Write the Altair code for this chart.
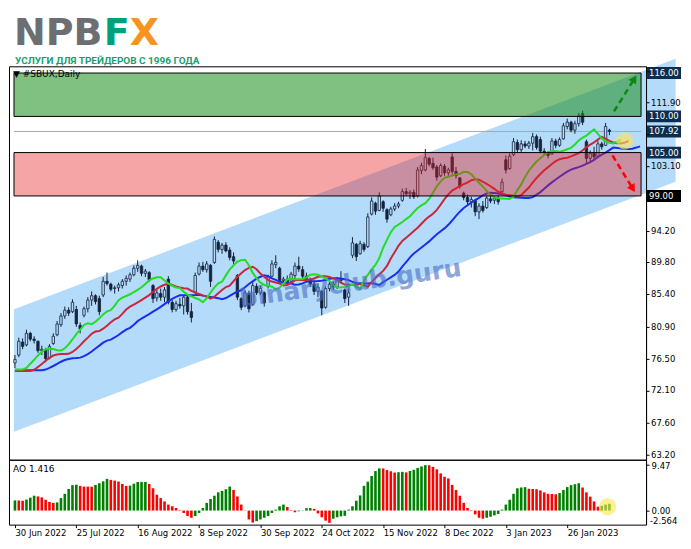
import altair as alt
import pandas as pd

FONT = "DejaVu Sans"

# ---------------- data ----------------
DATES = ["30 Jun 2022", "25 Jul 2022", "16 Aug 2022", "8 Sep 2022", "30 Sep 2022",
         "24 Oct 2022", "15 Nov 2022", "8 Dec 2022", "3 Jan 2023", "26 Jan 2023"]
DATE_IDX = [0, 16, 32, 48, 64, 80, 96, 112, 128, 144]

OPEN = [75.9, 77.0, 78.8, 78.4, 80.0, 79.2, 78.9, 77.6, 77.7, 76.6,
        78.6, 79.8, 81.2, 82.4, 83.2, 83.0, 83.3, 81.1, 82.5, 83.4,
        84.6, 85.2, 84.8, 85.3, 87.2, 86.8, 86.2, 86.3, 86.6, 87.2,
        87.5, 88.1, 89.0, 89.3, 88.3, 88.4, 86.6, 84.9, 85.5, 85.0,
        87.5, 84.3, 83.3, 84.0, 83.8, 85.0, 83.0, 85.7, 88.2, 89.3,
        88.8, 89.4, 89.8, 92.6, 91.6, 92.2, 91.5, 90.6, 88.0, 84.8,
        83.8, 85.5, 84.0, 86.5, 85.6, 85.6, 86.5, 87.9, 89.5, 89.0,
        87.3, 87.5, 87.2, 88.0, 89.3, 88.8, 87.9, 87.5, 86.8, 85.8,
        85.8, 83.6, 86.2, 86.8, 86.4, 87.5, 86.0, 85.0, 90.8, 92.3,
        91.0, 92.3, 92.0, 96.5, 98.0, 97.0, 98.2, 97.1, 96.4, 97.2,
        97.6, 98.4, 99.6, 99.3, 99.5, 99.0, 102.5, 102.6, 104.2, 103.5,
        103.0, 101.8, 103.1, 102.2, 104.4, 102.4, 101.5, 99.4, 98.8, 98.2,
        98.4, 96.8, 97.6, 97.4, 98.6, 98.4, 98.7, 99.6, 104.0, 102.8,
        104.7, 106.4, 105.4, 106.2, 105.9, 106.3, 107.2, 106.8, 105.2, 104.9,
        104.8, 106.6, 106.0, 106.9, 108.6, 109.2, 108.1, 109.0, 110.4, 106.5,
        104.2, 104.9, 104.5, 106.2, 106.0, 108.1]
HIGH = [77.0, 79.4, 79.3, 80.5, 80.2, 79.6, 79.0, 78.3, 78.0, 78.5,
        80.0, 81.7, 82.8, 83.7, 83.6, 84.7, 83.8, 81.5, 83.7, 85.0,
        85.8, 85.4, 85.2, 87.8, 88.4, 87.0, 86.6, 87.0, 87.5, 88.0,
        88.4, 89.4, 90.1, 89.5, 88.9, 88.6, 86.8, 86.0, 86.2, 86.4,
        87.9, 84.6, 84.5, 84.9, 85.3, 85.2, 84.2, 88.4, 89.8, 89.9,
        90.0, 89.6, 93.4, 92.9, 92.5, 92.6, 91.9, 91.2, 88.2, 85.0,
        86.0, 85.9, 87.1, 86.9, 86.6, 85.8, 88.1, 90.1, 90.8, 89.2,
        87.8, 88.0, 88.5, 89.8, 90.6, 89.3, 88.4, 87.7, 87.3, 86.9,
        86.0, 86.5, 87.3, 87.2, 87.8, 88.6, 86.2, 86.2, 93.3, 92.5,
        92.8, 92.6, 96.6, 98.8, 98.2, 99.5, 98.4, 97.3, 97.5, 98.0,
        98.2, 100.0, 100.1, 99.8, 99.9, 103.0, 103.6, 105.5, 104.4, 104.3,
        103.3, 103.5, 103.4, 102.9, 104.9, 103.0, 101.6, 99.6, 99.2, 98.9,
        98.6, 98.0, 98.3, 99.0, 99.2, 99.0, 99.1, 101.4, 104.6, 104.9,
        107.0, 106.8, 106.7, 106.6, 106.6, 107.7, 107.5, 107.2, 105.6, 105.2,
        107.0, 106.9, 107.1, 109.1, 109.7, 109.4, 109.4, 110.5, 110.8, 106.8,
        105.3, 105.8, 106.7, 106.5, 109.1, 108.3]
LOW = [75.2, 76.7, 77.8, 78.2, 78.9, 78.6, 77.3, 77.0, 76.0, 76.4,
       78.4, 79.6, 80.9, 82.0, 82.4, 82.8, 80.9, 80.0, 82.2, 82.9,
       83.8, 84.0, 82.5, 85.0, 86.6, 85.8, 85.5, 85.8, 86.2, 86.6,
       87.1, 87.9, 88.5, 87.9, 87.8, 87.1, 84.2, 84.4, 84.5, 84.3,
       84.0, 82.9, 83.0, 83.4, 82.6, 82.6, 81.5, 85.4, 88.0, 88.5,
       88.4, 86.4, 89.6, 91.2, 91.0, 91.2, 90.1, 89.6, 84.6, 83.2,
       83.6, 82.9, 83.8, 85.3, 85.3, 83.7, 86.2, 87.7, 89.0, 86.8,
       86.6, 86.8, 86.9, 87.5, 88.5, 87.6, 87.2, 86.4, 85.3, 85.0,
       82.5, 83.4, 85.8, 86.0, 86.1, 86.9, 84.2, 83.8, 90.4, 90.0,
       90.9, 91.3, 91.8, 96.3, 96.4, 96.9, 96.8, 95.3, 96.2, 96.9,
       97.3, 98.2, 99.0, 98.6, 98.6, 98.8, 102.0, 102.4, 103.1, 102.6,
       101.1, 101.6, 101.8, 101.8, 102.0, 101.4, 100.0, 98.4, 97.8, 97.4,
       96.2, 95.8, 96.7, 97.2, 98.0, 97.9, 97.8, 99.2, 102.1, 102.6,
       104.5, 105.0, 105.1, 105.6, 105.5, 105.3, 105.4, 104.9, 104.7, 104.2,
       104.7, 105.6, 105.8, 106.8, 108.2, 107.8, 107.6, 108.6, 108.8, 103.5,
       103.6, 104.0, 104.3, 105.4, 105.9, 107.4]
CLOSE = [76.4, 78.9, 78.2, 80.0, 79.2, 79.0, 77.6, 77.8, 76.5, 78.2,
         79.6, 81.3, 82.4, 83.2, 82.8, 84.3, 81.3, 80.6, 83.4, 84.6,
         85.2, 84.4, 83.0, 87.2, 86.9, 86.1, 86.3, 86.7, 87.2, 87.6,
         88.1, 89.0, 89.4, 88.3, 88.6, 87.4, 84.8, 85.6, 85.0, 86.0,
         84.3, 83.3, 84.1, 83.8, 85.0, 83.0, 82.2, 88.0, 89.3, 88.8,
         89.6, 87.2, 93.0, 91.6, 92.2, 91.4, 90.5, 90.0, 85.0, 83.6,
         85.6, 83.4, 86.6, 85.6, 86.2, 84.2, 87.8, 89.6, 89.8, 87.3,
         87.5, 87.0, 88.2, 89.3, 88.9, 87.9, 87.6, 86.8, 85.8, 86.4,
         83.5, 86.2, 86.8, 86.4, 87.5, 87.3, 84.8, 85.6, 92.5, 90.6,
         92.4, 91.6, 96.1, 98.3, 96.9, 99.0, 97.3, 95.8, 97.2, 97.6,
         97.9, 99.6, 99.3, 99.5, 98.9, 102.6, 103.2, 104.3, 103.4, 102.9,
         101.6, 103.2, 102.2, 102.6, 102.4, 101.8, 100.3, 98.8, 98.2, 98.5,
         96.8, 97.6, 97.0, 98.7, 98.3, 98.7, 98.2, 100.9, 102.6, 104.5,
         106.5, 105.4, 106.2, 105.9, 106.3, 107.2, 105.7, 105.2, 105.0, 104.6,
         106.6, 106.0, 106.8, 108.7, 109.2, 108.1, 109.0, 110.1, 109.2, 104.2,
         104.9, 104.4, 106.2, 105.8, 108.6, 107.92]

AO = [2.12, 2.08, 2.06, 2.3, 2.7, 3.1, 2.95, 2.75, 2.25, 1.8,
      1.6, 1.7, 2.6, 3.5, 4.5, 5.3, 5.4, 5.15, 5.0, 4.99,
      4.98, 5.35, 5.7, 6.1, 6.6, 6.4, 6.25, 6.05, 5.55, 5.15,
      5.2, 5.6, 5.95, 5.97, 5.98, 5.55, 4.65, 3.3, 2.6, 1.9,
      1.25, 0.9, 0.55, 0.1, -0.5, -1.15, -1.5, -1.15, -0.5, 0.55,
      1.6, 2.4, 3.1, 3.8, 4.1, 4.45, 5.0, 4.3, 2.95, 1.25,
      0.05, -1.85, -2.5, -2.2, -1.85, -1.5, -1.15, -0.5, 0.2, 0.9,
      1.25, 0.75, 0.1, -0.35, -0.15, 0.05, 0.5, 0.52, 0.35,
      -0.6, -1.4, -2.1, -2.56, -1.7, -1.4, -1.2, -1.1, 0.2, 0.9,
      2.06, 3.16, 5.15, 6.04, 7.2, 8.24, 8.8, 8.78, 8.44, 8.2,
      7.92, 8.0, 8.08, 7.95, 8.25, 8.5, 8.9, 9.2, 9.47, 9.44,
      9.1, 8.6, 7.75, 7.05, 6.7, 5.35, 4.3, 3.1, 1.6, 0.55,
      -0.1, -0.8, -1.5, -1.7, -1.5, -1.3, -1.0, -0.7, 0.2, 1.25,
      2.26, 3.5, 4.65, 4.82, 4.88, 4.55, 4.5, 4.45, 4.2, 3.8,
      3.5, 3.45, 3.4, 3.65, 4.3, 4.9, 5.3, 5.5, 5.7, 4.8,
      3.8, 2.9, 1.9, 0.8, 1.0, 1.25, 1.416]

PRICE_TICKS = [63.2, 67.6, 72.1, 76.5, 80.9, 85.4, 89.8, 94.2, 98.6, 103.1, 107.5, 111.9, 116.3]
PRICE_LABELS = [63.2, 67.6, 72.1, 76.5, 80.9, 85.4, 89.8, 94.2, 103.1, 111.9]
LEVELS = [116.0, 110.0, 107.92, 105.0, 99.0]
LEVEL_COLORS = ["#0b2d4f", "#0b2d4f", "#0b2d4f", "#0b2d4f", "#000000"]
BUY_ZONE = [110.0, 116.0]
SELL_ZONE = [99.0, 105.0]
CHANNEL_X = [-0.25, 172.25]
CHANNEL_TOP = [83.34, 117.98]
CHANNEL_BOT = [66.38, 100.98]
ARROW_UP_X = [156.2, 161.5]
ARROW_UP_Y = [110.7, 115.2]
ARROW_DN_X = [155.8, 161.1]
ARROW_DN_Y = [104.6, 100.0]
HILITE_MAIN = [159.0, 106.6]
HILITE_AO = [154.5, 0.8]
WATERMARK = [87.5, 86.9]
SEEDS = {"jaw": 74.9, "teeth": 74.8, "lips": 75.0}
LINE_COLORS = {"jaw": "#1a2ef0", "teeth": "#c8283c", "lips": "#22dd22"}

# ---------------- layout ----------------
W, H, HA = 638, 394, 65
XD = [-0.25, 163.25]
YD = [62.52, 116.93]
AOD = [-2.93, 10.6]
CANDLE = "#14233c"
BLUE_FILL = "#b5dbfb"
LOGO_SIZE = 38
LOGO_BASE = -21.5

n = len(CLOSE)
idx = list(range(n))
cdf = pd.DataFrame({"i": idx, "o": OPEN, "h": HIGH, "l": LOW, "c": CLOSE})
cdf["fillc"] = [BLUE_FILL if c >= o else CANDLE for o, c in zip(OPEN, CLOSE)]

# Alligator (smoothed moving averages of the median price, shifted forward)
median = [(h + l) / 2 for h, l in zip(HIGH, LOW)]


def smma(vals, period, seed):
    out, s = [], seed
    for v in vals:
        s = (s * (period - 1) + v) / period
        out.append(s)
    return out


rows = []
for name, period, shift in [("jaw", 13, 8), ("teeth", 8, 5), ("lips", 5, 3)]:
    vals = smma(median, period, SEEDS[name])
    for p in range(shift):
        rows.append({"s": name, "col": LINE_COLORS[name], "pos": p, "val": SEEDS[name]})
    for j, v in enumerate(vals):
        rows.append({"s": name, "col": LINE_COLORS[name], "pos": j + shift, "val": v})
ldf = pd.DataFrame(rows)

xs = alt.Scale(domain=XD, nice=False, zero=False)
ys = alt.Scale(domain=YD, nice=False, zero=False)
yax = alt.Axis(orient="right", values=PRICE_TICKS, labels=False, ticks=True, tickSize=3,
               tickColor="#000", domainColor="#000", grid=False, title=None, zindex=1)


def X(f):
    return alt.X(f + ":Q", scale=xs, axis=None)


def Y(f):
    return alt.Y(f + ":Q", scale=ys, axis=yax)


one = pd.DataFrame({"a": [0]})

channel = alt.Chart(pd.DataFrame({"x": CHANNEL_X, "top": CHANNEL_TOP, "bot": CHANNEL_BOT})).mark_area(
    color=BLUE_FILL, clip=False).encode(x=X("x"), y=Y("top"), y2="bot")

price_line = alt.Chart(pd.DataFrame({"x0": [XD[0]], "x1": [XD[1]], "p": [LEVELS[2]]})).mark_rule(
    color="#a8a8a8", strokeWidth=1).encode(x=X("x0"), x2="x1", y=Y("p"))

wick = alt.Chart(cdf).mark_rule(color=CANDLE, strokeWidth=1).encode(x=X("i"), y=Y("l"), y2="h")
body = alt.Chart(cdf).mark_bar(size=2.4, stroke=CANDLE, strokeWidth=0.8).encode(
    x=X("i"), y=Y("o"), y2="c", fill=alt.Fill("fillc:N", scale=None))

gator = alt.Chart(ldf).mark_line(strokeWidth=2).encode(
    x=X("pos"), y=Y("val"), color=alt.Color("col:N", scale=None), detail="s:N")

green_band = alt.Chart(pd.DataFrame({"x0": [XD[0]], "x1": [XD[1]], "lo": [BUY_ZONE[0]], "hi": [BUY_ZONE[1]]})).mark_rect(
    fill="rgb(28,142,28)", fillOpacity=0.56, stroke="#000", strokeWidth=1).encode(
    x=X("x0"), x2="x1", y=Y("lo"), y2="hi")
red_band = alt.Chart(pd.DataFrame({"x0": [XD[0]], "x1": [XD[1]], "lo": [SELL_ZONE[0]], "hi": [SELL_ZONE[1]]})).mark_rect(
    fill="rgb(230,30,30)", fillOpacity=0.4, stroke="#000", strokeWidth=1).encode(
    x=X("x0"), x2="x1", y=Y("lo"), y2="hi")

up_df = pd.DataFrame({"x": ARROW_UP_X, "y": ARROW_UP_Y})
dn_df = pd.DataFrame({"x": ARROW_DN_X, "y": ARROW_DN_Y})
up_line = alt.Chart(up_df).mark_line(color="#0a8a0a", strokeDash=[6, 4], strokeWidth=2.5).encode(x=X("x"), y=Y("y"))
up_head = alt.Chart(up_df.tail(1)).mark_point(shape="triangle-up", filled=True, size=80, angle=32,
                                               color="#0a8a0a", opacity=1).encode(x=X("x"), y=Y("y"))
dn_line = alt.Chart(dn_df).mark_line(color="#ff0000", strokeDash=[6, 4], strokeWidth=2.5).encode(x=X("x"), y=Y("y"))
dn_head = alt.Chart(dn_df.tail(1)).mark_point(shape="triangle-up", filled=True, size=80, angle=148,
                                               color="#ff0000", opacity=1).encode(x=X("x"), y=Y("y"))

hilite = alt.Chart(pd.DataFrame({"x": [HILITE_MAIN[0]], "y": [HILITE_MAIN[1]]})).mark_point(
    shape="circle", filled=True, size=300, color="#ffe650", opacity=0.6).encode(x=X("x"), y=Y("y"))

watermark = alt.Chart(pd.DataFrame({"x": [WATERMARK[0]], "y": [WATERMARK[1]]})).mark_text(
    text="binaryclub.guru", angle=352, fontSize=25, fontWeight="bold", font=FONT,
    color="#4a6cc4", opacity=0.6).encode(x=X("x"), y=Y("y"))

title_txt = alt.Chart(one).mark_text(text="▼ #SBUX,Daily", align="left", baseline="middle",
                                     fontSize=9, font=FONT, color="#000").encode(
    x=alt.value(4), y=alt.value(8))

logo_npb = alt.Chart(one).mark_text(text="NPB", align="left", baseline="alphabetic", fontSize=LOGO_SIZE,
                                    fontWeight="bold", font=FONT, color="#6d6e71").encode(
    x=alt.value(5), y=alt.value(LOGO_BASE))
logo_f = alt.Chart(one).mark_text(text="F", align="left", baseline="alphabetic", fontSize=LOGO_SIZE,
                                  fontWeight="bold", font=FONT, color="#00a07c").encode(
    x=alt.value(95), y=alt.value(LOGO_BASE))
logo_x = alt.Chart(one).mark_text(text="X", align="left", baseline="alphabetic", fontSize=LOGO_SIZE,
                                  fontWeight="bold", font=FONT, color="#f7941d").encode(
    x=alt.value(121), y=alt.value(LOGO_BASE))
logo_sub = alt.Chart(one).mark_text(text="УСЛУГИ ДЛЯ ТРЕЙДЕРОВ С 1996 ГОДА", align="left",
                                    baseline="alphabetic", fontSize=10, fontWeight="bold",
                                    font="Liberation Sans Narrow, Roboto, sans-serif",
                                    color="#1a9e6e").encode(x=alt.value(6), y=alt.value(-2.5))

tick_df = pd.DataFrame({"p": PRICE_LABELS, "lab": [f"{p:.2f}" for p in PRICE_LABELS]})
tick_labels = alt.Chart(tick_df).mark_text(align="left", baseline="middle", font=FONT, fontSize=8.5,
                                           color="#000").encode(x=alt.value(W + 5), y=Y("p"), text="lab")

lv_df = pd.DataFrame({"p": LEVELS, "lab": [f"{p:.2f}" for p in LEVELS], "col": LEVEL_COLORS})
BOX = "M-1,-0.35L1,-0.35L1,0.35L-1,0.35Z"
lv_boxes = alt.Chart(lv_df).mark_point(shape=BOX, filled=True, size=34 * 34, opacity=1, strokeWidth=0).encode(
    x=alt.value(W + 18), y=Y("p"), color=alt.Color("col:N", scale=None))
lv_text = alt.Chart(lv_df).mark_text(align="left", baseline="middle", font=FONT, fontSize=8.5,
                                     color="#ffffff").encode(x=alt.value(W + 3), y=Y("p"), text="lab")

main = alt.layer(channel, price_line, wick, body, gator, green_band, red_band,
                 up_line, up_head, dn_line, dn_head, hilite, watermark, title_txt,
                 logo_npb, logo_f, logo_x, logo_sub, tick_labels, lv_boxes, lv_text).properties(
    width=W, height=H)

# ---------------- AO panel ----------------
ao_cols = ["#008000"] + ["#008000" if AO[i] > AO[i - 1] else "#ff0000" for i in range(1, n)]
adf = pd.DataFrame({"i": idx, "ao": AO, "zero": [0.0] * n, "col": ao_cols})

aos = alt.Scale(domain=AOD, nice=False, zero=False)
label_expr = "[" + ",".join(f"'{d}'" for d in DATES) + "][round(datum.value/16)]"
aox = alt.Axis(orient="bottom", values=DATE_IDX, labelExpr=label_expr, labelAlign="left",
               labelFont=FONT, labelFontSize=8.5, labelColor="#000", tickColor="#000", tickSize=3,
               domain=False, grid=False, title=None, labelPadding=1, labelOverlap=False, labelFlush=False)
aoy = alt.Axis(orient="right", values=[9.47, 0.0], format=".2f", labelFont=FONT, labelFontSize=8.5,
               labelColor="#000", tickSize=3, tickColor="#000", domainColor="#000", grid=False,
               title=None, labelOverlap=False, labelPadding=2)

ao_bars = alt.Chart(adf).mark_bar(size=2.6).encode(
    x=alt.X("i:Q", scale=xs, axis=aox),
    y=alt.Y("ao:Q", scale=aos, axis=aoy), y2="zero",
    color=alt.Color("col:N", scale=None))
ao_hilite = alt.Chart(pd.DataFrame({"x": [HILITE_AO[0]], "y": [HILITE_AO[1]]})).mark_point(
    shape="circle", filled=True, size=300, color="#ffe650", opacity=0.6).encode(
    x=alt.X("x:Q", scale=xs, axis=aox), y=alt.Y("y:Q", scale=aos, axis=aoy))
ao_title = alt.Chart(one).mark_text(text=f"AO {AO[-1]:.3f}", align="left", baseline="middle",
                                    fontSize=9, font=FONT, color="#000").encode(
    x=alt.value(4), y=alt.value(9))
ao_min = alt.Chart(pd.DataFrame({"v": [0.0], "t": ["-2.564"]})).mark_text(
    align="left", baseline="middle", dy=10, font=FONT, fontSize=8.5, color="#000").encode(
    x=alt.value(W + 4), y=alt.Y("v:Q", scale=aos, axis=aoy), text="t")

ao = alt.layer(ao_bars, ao_hilite, ao_title, ao_min).properties(width=W, height=HA)

chart = alt.vconcat(main, ao, spacing=0, bounds="flush",
                    padding={"left": 0, "right": 1, "top": 6, "bottom": 1}).resolve_scale(
    x="independent", y="independent", color="independent").configure_view(stroke="#000", strokeWidth=1)

chart.save("out.html", embed_options={"renderer": "svg", "actions": False})
